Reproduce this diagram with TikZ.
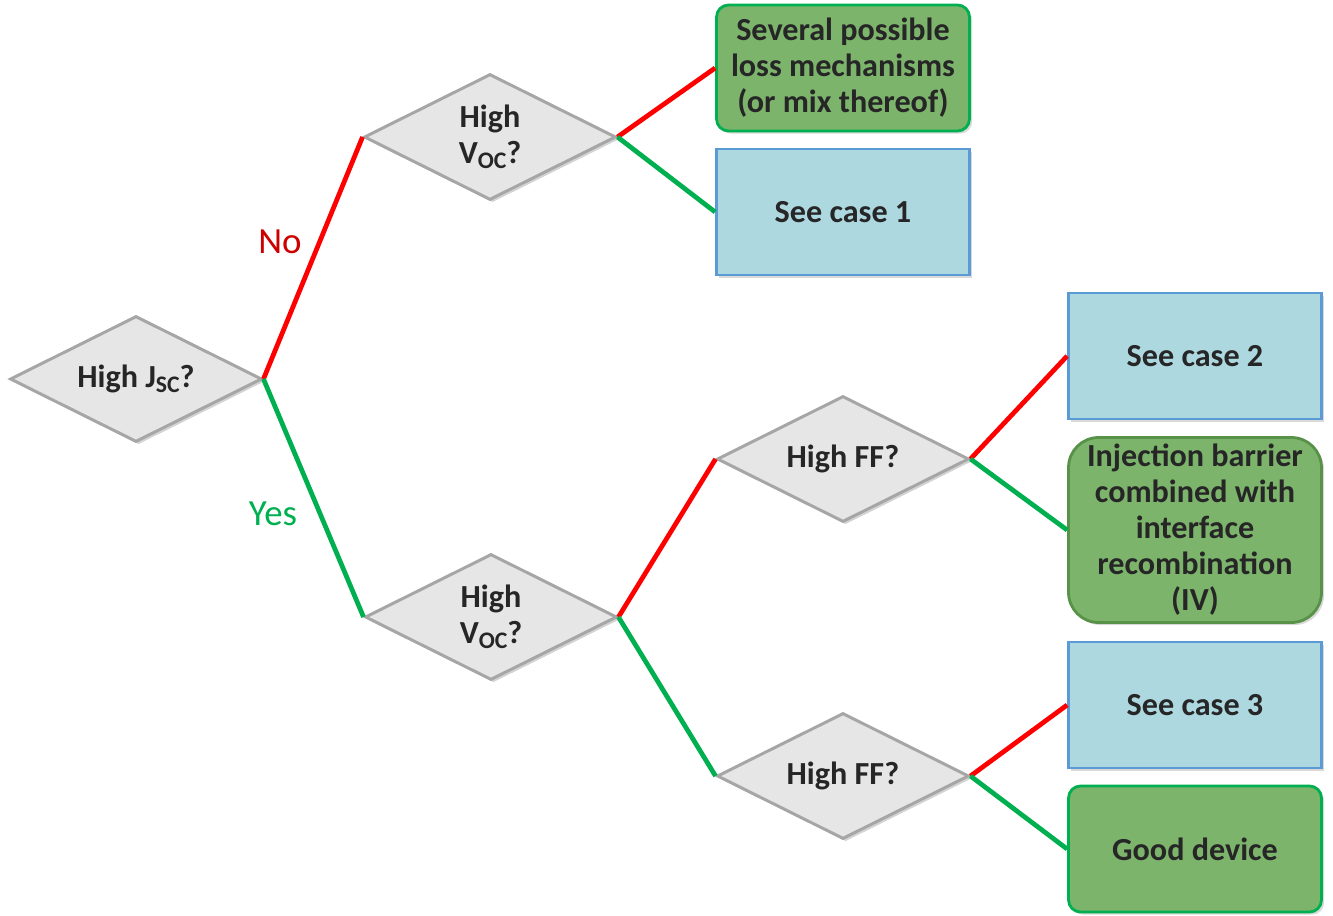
\documentclass[tikz,border=0pt]{standalone}
\usepackage{fontspec}
\setmainfont{Carlito}
\usetikzlibrary{shapes.geometric,shadows}
\definecolor{treeRed}{RGB}{255,0,0}
\definecolor{treeGreen}{RGB}{0,176,80}
\definecolor{treeInk}{RGB}{38,38,38}
\definecolor{diaFill}{RGB}{230,230,230}
\definecolor{diaEdge}{RGB}{166,166,166}
\definecolor{caseFill}{RGB}{173,216,224}
\definecolor{caseEdge}{RGB}{91,155,213}
\definecolor{endFill}{RGB}{125,180,108}
\definecolor{endEdge}{RGB}{88,145,72}
\newcommand{\lowsub}[1]{\raisebox{-0.3ex}{\fontsize{13.5}{14}\selectfont #1}}

\begin{document}
\begin{tikzpicture}[x=0.02cm, y=-0.02cm,
    decision/.style={diamond, aspect=2, draw=diaEdge, line width=1.7pt, fill=diaFill,
      minimum width=5.04cm, minimum height=2.52cm, inner sep=0pt, align=center,
      font=\fontsize{18.3}{20.5}\selectfont\bfseries, text=treeInk,
      drop shadow={shadow xshift=1.5pt, shadow yshift=-1.5pt, opacity=0.35}},
    casebox/.style={draw=caseEdge, line width=1.6pt, fill=caseFill, align=center,
      minimum width=5.06cm, minimum height=2.52cm, inner sep=0pt,
      font=\fontsize{18.3}{20.5}\selectfont\bfseries, text=treeInk,
      drop shadow={shadow xshift=1.5pt, shadow yshift=-1.5pt, opacity=0.3}},
    endbox/.style={draw=treeGreen, line width=1.6pt, fill=endFill, rounded corners=0.24cm,
      align=center, minimum width=5.06cm, minimum height=2.52cm, inner sep=0pt,
      font=\fontsize{18.3}{20.5}\selectfont\bfseries, text=treeInk,
      drop shadow={shadow xshift=1.5pt, shadow yshift=-1.5pt, opacity=0.3}},
    noline/.style={line width=2.7pt, draw=treeRed},
    yesline/.style={line width=2.7pt, draw=treeGreen}
  ]
    \useasboundingbox (0,0) rectangle (1333,916);

    % decisions
    \node[decision] (jsc) at (136,379) {High J\lowsub{SC}?};
    \node[decision] (vocA) at (490,137) {High\\V\lowsub{OC}?};
    \node[decision] (vocB) at (491,617) {High\\V\lowsub{OC}?};
    \node[decision] (ffA) at (843,459) {High FF?};
    \node[decision] (ffB) at (843,776) {High FF?};

    % outcomes
    \node[endbox] (mixbox) at (843,68) {Several possible\\loss mechanisms\\(or mix thereof)};
    \node[casebox] (case1) at (843,212) {See case 1};
    \node[casebox] (case2) at (1195,356) {See case 2};
    \node[endbox, draw=endEdge, rounded corners=0.6cm, minimum height=3.7cm] (barrier) at (1195,530)
      {Injection barrier\\combined with\\interface\\recombination\\(IV)};
    \node[casebox] (case3) at (1195,705) {See case 3};
    \node[endbox] (good) at (1195,849) {Good device};

    % branches
    \draw[noline] (jsc.east) -- (vocA.west);
    \draw[yesline] (jsc.east) -- (vocB.west);
    \draw[noline] (vocA.east) -- (mixbox.west);
    \draw[yesline] (vocA.east) -- (case1.west);
    \draw[noline] (vocB.east) -- (ffA.west);
    \draw[yesline] (vocB.east) -- (ffB.west);
    \draw[noline] (ffA.east) -- (case2.west);
    \draw[yesline] (ffA.east) -- (barrier.west);
    \draw[noline] (ffB.east) -- (case3.west);
    \draw[yesline] (ffB.east) -- (good.west);

    \node[text=treeRed!80!black, font=\fontsize{21}{24}\selectfont] (nolabel) at (280,242) {No};
    \node[text=treeGreen, font=\fontsize{21}{24}\selectfont] (yeslabel) at (273,514) {Yes};
  \end{tikzpicture}
\end{document}
